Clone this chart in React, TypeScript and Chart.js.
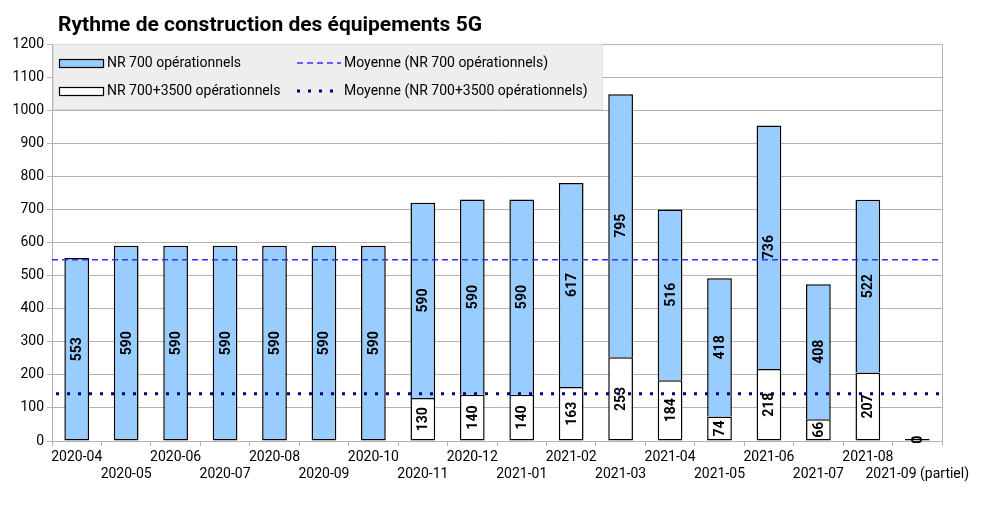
import React, { useEffect, useRef } from "react";
import { Chart, registerables } from "chart.js";

Chart.register(...registerables);

const months = [
  "2020-04", "2020-05", "2020-06", "2020-07", "2020-08", "2020-09",
  "2020-10", "2020-11", "2020-12", "2021-01", "2021-02", "2021-03",
  "2021-04", "2021-05", "2021-06", "2021-07", "2021-08", "2021-09 (partiel)",
];
const nr700 = [553, 590, 590, 590, 590, 590, 590, 590, 590, 590, 617, 795, 516, 418, 736, 408, 522, null];
const nr7003500 = [null, null, null, null, null, null, null, 130, 140, 140, 163, 253, 184, 74, 218, 66, 207, 0];
const avgNr700 = 548;
const avgNr7003500 = 143;

const FONT = "Roboto";
const BLUE = "#99ccff";
const GRID = "#b3b3b3";
const DASH_BLUE = "#3030ff";
const NAVY = "#000080";

const overlay = {
  id: "overlay",
  afterDatasetsDraw(chart: any) {
    const { ctx, chartArea, scales } = chart;
    ctx.save();

    // bord droit
    ctx.strokeStyle = GRID;
    ctx.lineWidth = 1;
    ctx.beginPath();
    ctx.moveTo(Math.round(chartArea.right) + 0.5, chartArea.top);
    ctx.lineTo(Math.round(chartArea.right) + 0.5, chartArea.bottom);
    ctx.stroke();

    // moyennes
    const yA = scales.y.getPixelForValue(avgNr700);
    ctx.strokeStyle = DASH_BLUE;
    ctx.lineWidth = 1.5;
    ctx.setLineDash([6, 4]);
    ctx.beginPath();
    ctx.moveTo(chartArea.left, yA);
    ctx.lineTo(chartArea.right, yA);
    ctx.stroke();

    const yB = scales.y.getPixelForValue(avgNr7003500);
    ctx.strokeStyle = NAVY;
    ctx.lineWidth = 3;
    ctx.setLineDash([3, 8]);
    ctx.beginPath();
    ctx.moveTo(chartArea.left + 4, yB);
    ctx.lineTo(chartArea.right, yB);
    ctx.stroke();
    ctx.setLineDash([]);

    // valeurs dans les barres
    chart.data.datasets.forEach((ds: any, di: number) => {
      const meta = chart.getDatasetMeta(di);
      meta.data.forEach((el: any, i: number) => {
        const v = ds.data[i];
        if (v == null) return;
        const { x, y, base } = el.getProps(["x", "y", "base"], true);
        ctx.save();
        ctx.translate(x, (y + base) / 2);
        ctx.rotate(-Math.PI / 2);
        ctx.font = `bold 14px ${FONT}`;
        ctx.textAlign = "center";
        ctx.textBaseline = "middle";
        ctx.fillStyle = "#000";
        ctx.fillText(String(v), 0, 1);
        ctx.restore();
      });
    });

    // légende
    ctx.fillStyle = "#eeeeee";
    ctx.fillRect(53, 44, 549, 66);
    ctx.strokeStyle = "#c8c8c8";
    ctx.lineWidth = 1;
    ctx.setLineDash([1, 1]);
    ctx.strokeRect(53.5, 44.5, 549, 65);
    ctx.setLineDash([]);

    ctx.lineWidth = 1.2;
    ctx.fillStyle = BLUE;
    ctx.fillRect(59, 59, 44, 8);
    ctx.strokeStyle = "#000";
    ctx.strokeRect(59.5, 59.5, 44, 8);
    ctx.fillStyle = "#fff";
    ctx.fillRect(59, 87, 44, 8);
    ctx.strokeRect(59.5, 87.5, 44, 8);

    ctx.strokeStyle = DASH_BLUE;
    ctx.lineWidth = 1.5;
    ctx.setLineDash([6, 4]);
    ctx.beginPath();
    ctx.moveTo(297, 63);
    ctx.lineTo(341, 63);
    ctx.stroke();
    ctx.strokeStyle = NAVY;
    ctx.lineWidth = 3;
    ctx.setLineDash([3, 8]);
    ctx.beginPath();
    ctx.moveTo(297, 91);
    ctx.lineTo(341, 91);
    ctx.stroke();
    ctx.setLineDash([]);

    ctx.fillStyle = "#000";
    ctx.font = `14px ${FONT}`;
    ctx.textAlign = "left";
    ctx.textBaseline = "middle";
    ctx.fillText("NR 700 opérationnels", 107, 63);
    ctx.fillText("NR 700+3500 opérationnels", 107, 91);
    ctx.fillText("Moyenne (NR 700 opérationnels)", 344, 63);
    ctx.fillText("Moyenne (NR 700+3500 opérationnels)", 344, 91);

    ctx.restore();
  },
  afterDraw(chart: any) {
    const { ctx } = chart;
    ctx.save();
    ctx.fillStyle = "#000";
    ctx.font = `bold 21px ${FONT}`;
    ctx.textAlign = "left";
    ctx.textBaseline = "alphabetic";
    ctx.fillText("Rythme de construction des équipements 5G", 58, 31);
    ctx.restore();
  },
};

export default function App() {
  const chartRef = useRef<HTMLCanvasElement | null>(null);

  useEffect(() => {
    document.body.style.margin = "0";
    const labels = months.map((m, i) => (i % 2 === 0 ? [m, ""] : ["", m]));

    const chartConfig: any = {
      type: "bar",
      data: {
        labels,
        datasets: [
          {
            label: "NR 700+3500 opérationnels",
            data: nr7003500,
            backgroundColor: "#ffffff",
            borderColor: "#000000",
            borderWidth: 1.5,
            borderSkipped: false,
            minBarLength: 2,
            categoryPercentage: 0.5,
            barPercentage: 1,
          },
          {
            label: "NR 700 opérationnels",
            data: nr700,
            backgroundColor: BLUE,
            borderColor: "#000000",
            borderWidth: 1.5,
            borderSkipped: (c: any) => (nr7003500[c.dataIndex] == null ? false : "start"),
            categoryPercentage: 0.5,
            barPercentage: 1,
          },
        ],
      },
      options: {
        animation: false,
        responsive: true,
        maintainAspectRatio: false,
        layout: { padding: { left: 0, right: 43, top: 44, bottom: 0 } },
        plugins: {
          legend: { display: false },
          tooltip: { enabled: false },
          title: { display: false },
        },
        scales: {
          x: {
            stacked: true,
            grid: { offset: true, drawOnChartArea: false, tickLength: 5, color: GRID },
            border: { color: GRID },
            ticks: {
              autoSkip: false,
              maxRotation: 0,
              minRotation: 0,
              color: "#000",
              padding: 3,
              font: { family: FONT, size: 14 },
            },
            afterFit: (s: any) => {
              s.height = 67;
            },
          },
          y: {
            stacked: true,
            min: 0,
            max: 1200,
            ticks: {
              stepSize: 100,
              color: "#000",
              padding: 3,
              font: { family: FONT, size: 14 },
              callback: (v: any) => String(v),
            },
            grid: { color: GRID, tickLength: 5 },
            border: { color: GRID },
            afterFit: (s: any) => {
              s.width = 52;
            },
          },
        },
      },
      plugins: [overlay],
    };

    const ctx = chartRef.current?.getContext("2d");
    if (ctx) {
      const myChart = new Chart(ctx, chartConfig);
      return () => {
        myChart.destroy();
      };
    }
  }, []);

  return (
    <div style={{ position: "relative", width: 985, height: 508, background: "#fff" }}>
      <canvas ref={chartRef}></canvas>
    </div>
  );
}
